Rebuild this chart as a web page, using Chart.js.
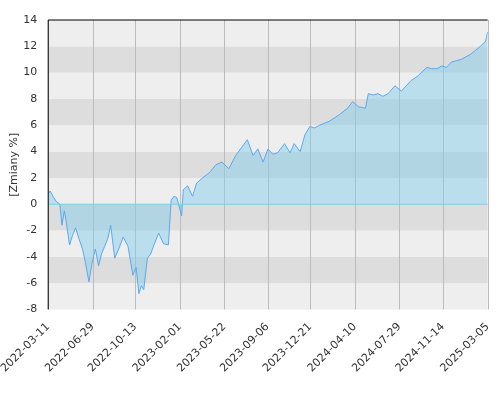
<!DOCTYPE html>
<html>
<head>
<script src="https://cdn.jsdelivr.net/npm/chart.js@4"></script>
<style>
body { margin: 0; background: #fff; }
#wrap { width: 500px; height: 400px; }
</style>
</head>
<body>
<div id="wrap"><canvas id="c"></canvas></div>
<script>
// days since 2022-03-11 and change in %
var days = [0, 5, 12, 20, 29, 34, 40, 44, 53, 60, 68, 76, 85, 92, 101, 108, 117, 125, 132, 140, 148, 155, 165, 175, 186, 198, 210, 218, 225, 231, 237, 246, 254, 261, 274, 286, 298, 305, 312, 319, 331, 335, 346, 358, 368, 383, 400, 416, 431, 448, 465, 477, 494, 508, 520, 533, 545, 557, 569, 586, 600, 610, 625, 637, 649, 661, 673, 697, 722, 743, 755, 770, 787, 794, 806, 818, 830, 843, 860, 876, 888, 900, 915, 939, 951, 964, 976, 988, 1000, 1012, 1024, 1036, 1048, 1060, 1072, 1085, 1090];
var values = [0.8, 1.0, 0.6, 0.2, 0.0, -1.6, -0.5, -1.2, -3.1, -2.4, -1.8, -2.6, -3.4, -4.4, -5.9, -4.6, -3.4, -4.7, -3.8, -3.2, -2.6, -1.6, -4.1, -3.4, -2.5, -3.2, -5.4, -4.8, -6.8, -6.2, -6.5, -4.1, -3.8, -3.2, -2.2, -3.0, -3.1, 0.3, 0.6, 0.5, -0.9, 1.1, 1.4, 0.6, 1.6, 2.0, 2.4, 3.0, 3.2, 2.7, 3.7, 4.2, 4.9, 3.7, 4.2, 3.2, 4.2, 3.8, 3.9, 4.6, 3.9, 4.6, 4.0, 5.3, 5.9, 5.8, 6.0, 6.3, 6.8, 7.3, 7.8, 7.4, 7.3, 8.4, 8.3, 8.4, 8.2, 8.4, 9.0, 8.6, 9.0, 9.4, 9.7, 10.4, 10.3, 10.3, 10.5, 10.4, 10.8, 10.9, 11.0, 11.2, 11.4, 11.7, 12.0, 12.4, 13.1];
var tickDays = [0, 110, 216, 327, 437, 544, 650, 761, 871, 979, 1090];
var tickLabels = ["2022-03-11", "2022-06-29", "2022-10-13", "2023-02-01", "2023-05-22", "2023-09-06", "2023-12-21", "2024-04-10", "2024-07-29", "2024-11-14", "2025-03-05"];
var yTicks = [-8, -6, -4, -2, 0, 2, 4, 6, 8, 10, 12, 14];

var points = days.map(function(d, i) { return { x: d, y: values[i] }; });

// grey bands and vertical date lines behind the plot
var bands = {
    id: "bands",
    beforeDatasetsDraw: function(chart) {
        var ctx = chart.ctx, a = chart.chartArea, y = chart.scales.y, x = chart.scales.x;
        ctx.save();
        for (var v = -8; v < 14; v += 2) {
            var dark = ((14 - v) / 2) % 2 === 0;
            ctx.fillStyle = dark ? "#dddddd" : "#eeeeee";
            var top = y.getPixelForValue(v + 2), bot = y.getPixelForValue(v);
            ctx.fillRect(a.left, top, a.right - a.left, bot - top);
        }
        ctx.strokeStyle = "#bbbbbb";
        ctx.lineWidth = 1;
        tickDays.forEach(function(d) {
            var px = Math.round(x.getPixelForValue(d)) + 0.5;
            ctx.beginPath();
            ctx.moveTo(px, a.top);
            ctx.lineTo(px, a.bottom);
            ctx.stroke();
        });
        ctx.restore();
    },
    afterDatasetsDraw: function(chart) {
        var ctx = chart.ctx, a = chart.chartArea, y0 = chart.scales.y.getPixelForValue(0);
        ctx.save();
        ctx.strokeStyle = "#7fcdec";
        ctx.lineWidth = 1;
        ctx.beginPath();
        ctx.moveTo(a.left, y0);
        ctx.lineTo(a.right, y0);
        ctx.stroke();
        ctx.strokeStyle = "#000";
        ctx.beginPath();
        ctx.moveTo(a.left, a.bottom);
        ctx.lineTo(a.left, a.top);
        ctx.lineTo(a.right, a.top);
        ctx.stroke();
        ctx.restore();
    }
};

new Chart(document.getElementById("c"), {
    type: "line",
    data: {
        datasets: [{
            data: points,
            borderColor: "#5aa9f0",
            borderWidth: 1,
            pointRadius: 0,
            tension: 0,
            fill: { target: "origin", above: "rgba(135,206,235,0.5)", below: "rgba(135,206,235,0.5)" }
        }]
    },
    options: {
        responsive: true,
        maintainAspectRatio: false,
        animation: false,
        layout: { padding: { top: 20, right: -6, bottom: 22 } },
        plugins: { legend: { display: false }, tooltip: { enabled: false } },
        scales: {
            x: {
                type: "linear",
                min: 0,
                max: 1090,
                afterBuildTicks: function(axis) {
                    axis.ticks = tickDays.map(function(d) { return { value: d }; });
                },
                ticks: {
                    autoSkip: false,
                    maxRotation: 45,
                    minRotation: 45,
                    color: "#333",
                    font: { family: "DejaVu Sans", size: 11 },
                    callback: function(v) { return tickLabels[tickDays.indexOf(v)]; }
                },
                grid: { display: false },
                border: { display: false }
            },
            y: {
                min: -8,
                max: 14,
                afterBuildTicks: function(axis) {
                    axis.ticks = yTicks.map(function(v) { return { value: v }; });
                },
                afterFit: function(axis) { axis.width = 45; },
                ticks: { color: "#333", font: { family: "DejaVu Sans", size: 11 } },
                grid: { display: false },
                border: { display: false },
                title: { display: true, text: "[Zmiany %]", color: "#333", font: { family: "DejaVu Sans", size: 11 } }
            }
        }
    },
    plugins: [bands]
});
</script>
</body>
</html>
